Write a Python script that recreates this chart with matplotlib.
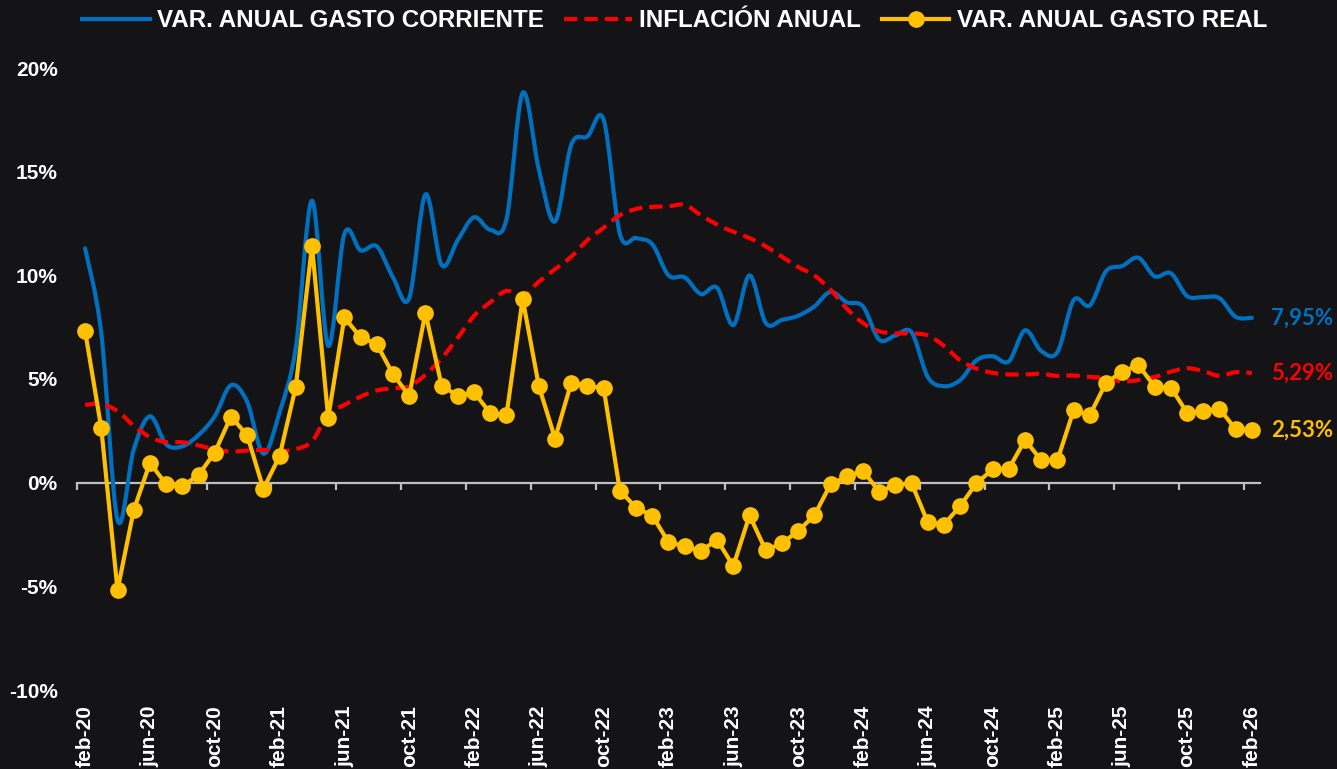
import matplotlib
matplotlib.use("Agg")
import matplotlib.pyplot as plt
from matplotlib.path import Path
from matplotlib.patches import PathPatch
from matplotlib.lines import Line2D
import numpy as np

# datos mensuales feb-20 .. feb-26 (73 meses), en %
nombres_mes = ["ene", "feb", "mar", "abr", "may", "jun", "jul", "ago", "sep", "oct", "nov", "dic"]
etiquetas = []
for k in range(73):
    m = (1 + k) % 12  # feb = 1
    anio = 20 + (1 + k) // 12
    etiquetas.append(f"{nombres_mes[m]}-{anio}")

gasto_corriente = [11.3, 7.2, -1.8, 1.6, 3.2, 1.85, 1.75, 2.3, 3.2, 4.7,
                   3.9, 1.4, 3.4, 6.5, 13.6, 6.6, 12.0, 11.2, 11.4, 9.9,
                   8.9, 13.9, 10.5, 11.7, 12.8, 12.2, 12.7, 18.8, 15.1, 12.6,
                   16.3, 16.7, 17.5, 12.0, 11.8, 11.5, 10.0, 9.9, 9.1, 9.4,
                   7.6, 10.0, 7.7, 7.85, 8.05, 8.5, 9.2, 8.7, 8.5, 6.9,
                   7.1, 7.25, 5.1, 4.65, 4.95, 5.9, 6.1, 5.85, 7.35, 6.35,
                   6.3, 8.8, 8.55, 10.2, 10.45, 10.85, 9.95, 10.1, 9.0, 8.95,
                   8.9, 8.0, 7.95]

inflacion = [3.75, 3.8, 3.45, 2.75, 2.2, 1.95, 1.95, 1.8, 1.6, 1.5,
             1.55, 1.58, 1.52, 1.62, 2.0, 3.3, 3.75, 4.15, 4.45, 4.55,
             4.65, 5.2, 6.0, 7.0, 8.05, 8.7, 9.25, 9.0, 9.7, 10.3,
             10.9, 11.7, 12.3, 12.9, 13.2, 13.3, 13.33, 13.4, 12.9, 12.45,
             12.1, 11.8, 11.4, 10.9, 10.4, 10.0, 9.3, 8.4, 7.7, 7.3,
             7.2, 7.2, 7.1, 6.6, 5.9, 5.5, 5.3, 5.22, 5.22, 5.25,
             5.15, 5.17, 5.1, 5.05, 4.88, 4.95, 5.1, 5.35, 5.52, 5.38,
             5.15, 5.33, 5.29]

gasto_real = [7.31, 2.62, -5.18, -1.33, 0.96, -0.08, -0.17, 0.37, 1.45, 3.19,
              2.29, -0.3, 1.28, 4.62, 11.43, 3.12, 7.97, 7.01, 6.68, 5.23,
              4.19, 8.19, 4.68, 4.19, 4.35, 3.36, 3.24, 8.87, 4.65, 2.13,
              4.82, 4.68, 4.55, -0.38, -1.21, -1.59, -2.87, -3.07, -3.29, -2.76,
              -4.02, -1.58, -3.26, -2.92, -2.33, -1.58, -0.08, 0.30, 0.58, -0.43,
              -0.12, -0.03, -1.91, -2.02, -1.12, -0.03, 0.64, 0.67, 2.06, 1.08,
              1.09, 3.49, 3.26, 4.82, 5.35, 5.67, 4.63, 4.59, 3.37, 3.44,
              3.57, 2.57, 2.53]

AZUL = "#0070C0"
ROJO = "#FF0000"
AMARILLO = "#FFC000"
FONDO = "#141416"
GRIS = "#BFBFBF"


def curva_suave(x, y):
    # linea suavizada tipo Excel (Bezier con tangentes Catmull-Rom)
    p = np.column_stack([x, y]).astype(float)
    n = len(p)
    verts = [p[0]]
    codes = [Path.MOVETO]
    for i in range(n - 1):
        p0 = p[i - 1] if i > 0 else p[i]
        p3 = p[i + 2] if i + 2 < n else p[i + 1]
        c1 = p[i] + (p[i + 1] - p0) / 6.0
        c2 = p[i + 1] - (p3 - p[i]) / 6.0
        verts += [c1, c2, p[i + 1]]
        codes += [Path.CURVE4] * 3
    return Path(verts, codes)


x = np.arange(len(gasto_real))

fig = plt.figure(figsize=(13.37, 7.69), dpi=100, facecolor=FONDO)
ax = fig.add_axes([77 / 1337, 1 - 690 / 769, (1260 - 77) / 1337, (690 - 68) / 769])
ax.set_facecolor(FONDO)

ax.add_patch(PathPatch(curva_suave(x, gasto_corriente), fill=False, edgecolor=AZUL,
                       lw=3.0, capstyle="round", joinstyle="round", zorder=3))
ax.add_patch(PathPatch(curva_suave(x, inflacion), fill=False, edgecolor=ROJO,
                       lw=3.0, linestyle=(0, (3.2, 1.7)), zorder=4))
ax.plot(x, gasto_real, color=AMARILLO, lw=3.0, marker="o", markersize=11, zorder=5)

ax.set_xlim(-0.5, 72.5)
ax.set_ylim(-10, 20)

# eje x en el cero con marcas entre categorias
for s in ["top", "right", "left"]:
    ax.spines[s].set_visible(False)
ax.spines["bottom"].set_position(("data", 0))
ax.spines["bottom"].set_color(GRIS)
ax.spines["bottom"].set_linewidth(1.6)
ax.set_xticks([])
ax.set_xticks(np.arange(-0.5, 72, 4), minor=True)
ax.tick_params(axis="x", which="minor", direction="out", length=5, width=1.6, color=GRIS)

sec = ax.secondary_xaxis(0.0)
sec.set_xticks(x[::4])
sec.set_xticklabels(etiquetas[::4], rotation=90, fontsize=15, fontweight="bold",
                    color="white", family="Liberation Sans")
sec.tick_params(length=0, pad=11)
sec.spines["bottom"].set_visible(False)

yt = [-10, -5, 0, 5, 10, 15, 20]
ax.set_yticks(yt)
ax.set_yticklabels([f"{v}%" for v in yt], fontsize=15, fontweight="bold",
                   color="white", family="Liberation Sans")
ax.tick_params(axis="y", length=0, pad=14)

# etiquetas del ultimo dato
for serie, col in [(gasto_corriente, AZUL), (inflacion, ROJO), (gasto_real, AMARILLO)]:
    ax.annotate(f"{serie[-1]:.2f}%".replace(".", ","), xy=(x[-1], serie[-1]),
                xytext=(14, 0), textcoords="offset points", va="center", ha="left",
                color=col, fontsize=16, fontweight="bold", family="Lato",
                annotation_clip=False)

handles = [Line2D([], [], color=AZUL, lw=3.0),
           Line2D([], [], color=ROJO, lw=3.0, linestyle=(0, (3.2, 1.7))),
           Line2D([], [], color=AMARILLO, lw=3.0, marker="o", markersize=11)]
nombres = ["VAR. ANUAL GASTO CORRIENTE", "INFLACIÓN ANUAL", "VAR. ANUAL GASTO REAL"]
leg = fig.legend(handles, nombres, loc="center", bbox_to_anchor=(0.5045, 0.973), ncol=3,
                 frameon=False, handlelength=2.8, handletextpad=0.3, columnspacing=0.85,
                 prop={"family": "Liberation Sans", "weight": "bold", "size": 17.4})
for t in leg.get_texts():
    t.set_color("white")

fig.savefig("out.png", dpi=100, facecolor=FONDO)
